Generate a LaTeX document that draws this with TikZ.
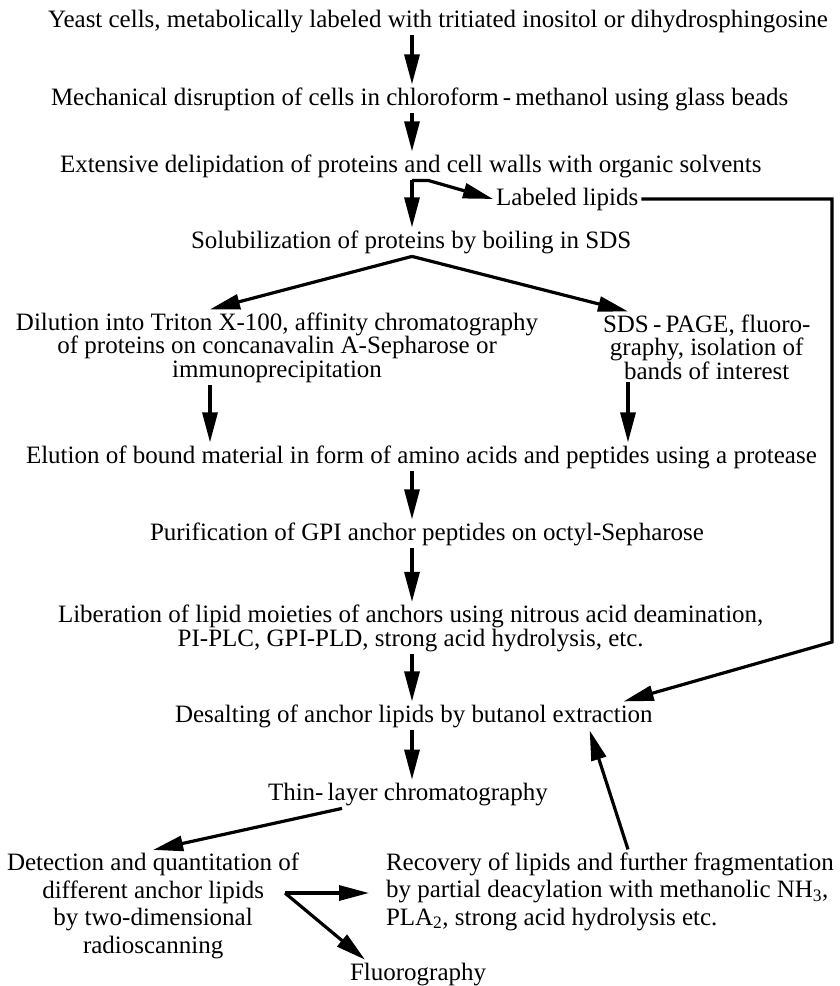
\documentclass[tikz,border=0pt]{standalone}
\usepackage{fontspec}
\setmainfont{Liberation Serif}
\usetikzlibrary{arrows.meta}
\tikzstyle{stage} = [inner sep=0pt, outer sep=3pt, anchor=base west, align=center]
\tikzstyle{wide} = [font=\fontsize{25}{27.5}\selectfont]
\tikzstyle{line} = [draw, line width=3.2pt, -{Triangle[length=30pt, width=15pt]}]

\begin{document}
\begin{tikzpicture}[x=1pt, y=-1pt, font=\fontsize{25}{23.5}\selectfont]
    \useasboundingbox (0,0) rectangle (839,986);
    \coordinate (spine) at (412,0);
    \coordinate (lcol) at (210,0);
    \coordinate (rcol) at (628,0);

    \node [stage] (yeast) at (45,27) {Yeast cells, metabolically labeled with tritiated inositol or dihydrosphingosine};
    \node [stage] (mech) at (48,105) {Mechanical disruption of cells in chloroform\,-\,methanol using glass beads};
    \node [stage] (delip) at (57,172) {Extensive delipidation of proteins and cell walls with organic solvents};
    \node [stage] (lipids) at (493,205) {Labeled lipids};
    \node [stage] (sds) at (188,248) {Solubilization of proteins by boiling in SDS};
    \node [stage] (triton) at (13,377) {Dilution into Triton X-100, affinity chromatography\\ of proteins on concanavalin A-Sepharose or\\ immunoprecipitation};
    \node [stage] (page) at (600,379) {SDS\,-\,PAGE, fluoro-\\ graphy, isolation of\\ bands of interest};
    \node [stage] (elution) at (23,463) {Elution of bound material in form of amino acids and peptides using a protease};
    \node [stage] (octyl) at (147,540) {Purification of GPI anchor peptides on octyl-Sepharose};
    \node [stage] (liberation) at (55,646) {Liberation of lipid moieties of anchors using nitrous acid deamination,\\ PI-PLC, GPI-PLD, strong acid hydrolysis, etc.};
    \node [stage] (desalt) at (172,722) {Desalting of anchor lipids by butanol extraction};
    \node [stage] (tlc) at (265,800) {Thin-\,layer chromatography};
    \node [stage, wide] (detect) at (4,953) {Detection and quantitation of\\ different anchor lipids\\ by two-dimensional\\ radioscanning};
    \node [stage, wide, align=left] (recovery) at (383,925) {Recovery of lipids and further fragmentation\\ by partial deacylation with methanolic NH\textsubscript{3},\\ PLA\textsubscript{2}, strong acid hydrolysis etc.};
    \node [stage] (fluoro) at (347,980) {Fluorography};
    \coordinate (fork) at (285,893);
    \coordinate (corner) at (832,642);

    \path [line] (yeast.south -| spine) -- (mech.north -| spine);
    \path [line] (mech.south -| spine) -- (delip.north -| spine);
    \path [line] (delip.south -| spine) -- (sds.north -| spine);
    \path [line] (delip.south -| spine) -- ++(16,0) -- (lipids.west);
    \path [line] (lipids.east) -| (corner) -- ([xshift=-32pt]desalt.north east);
    \path [line] (sds.south -| spine) -- (triton.north -| lcol);
    \path [line] (sds.south -| spine) -- (page.north -| rcol);
    \path [line] (triton.south -| lcol) -- (elution.north -| lcol);
    \path [line] (page.south -| rcol) -- (elution.north -| rcol);
    \path [line] (elution.south -| spine) -- (octyl.north -| spine);
    \path [line] (octyl.south -| spine) -- (liberation.north -| spine);
    \path [line] (liberation.south -| spine) -- (desalt.north -| spine);
    \path [line] (desalt.south -| spine) -- (tlc.north -| spine);
    \path [line] ([xshift=77pt]tlc.south west) -- (detect.north);
    \path [line, shorten >=14pt] (fork) -- (fork -| recovery.west);
    \path [line] (fork) -- ([xshift=18pt]fluoro.north west);
    \path [line] ([xshift=245pt]recovery.north west) -- ([xshift=-66pt]desalt.south east);

\end{tikzpicture}
\end{document}
